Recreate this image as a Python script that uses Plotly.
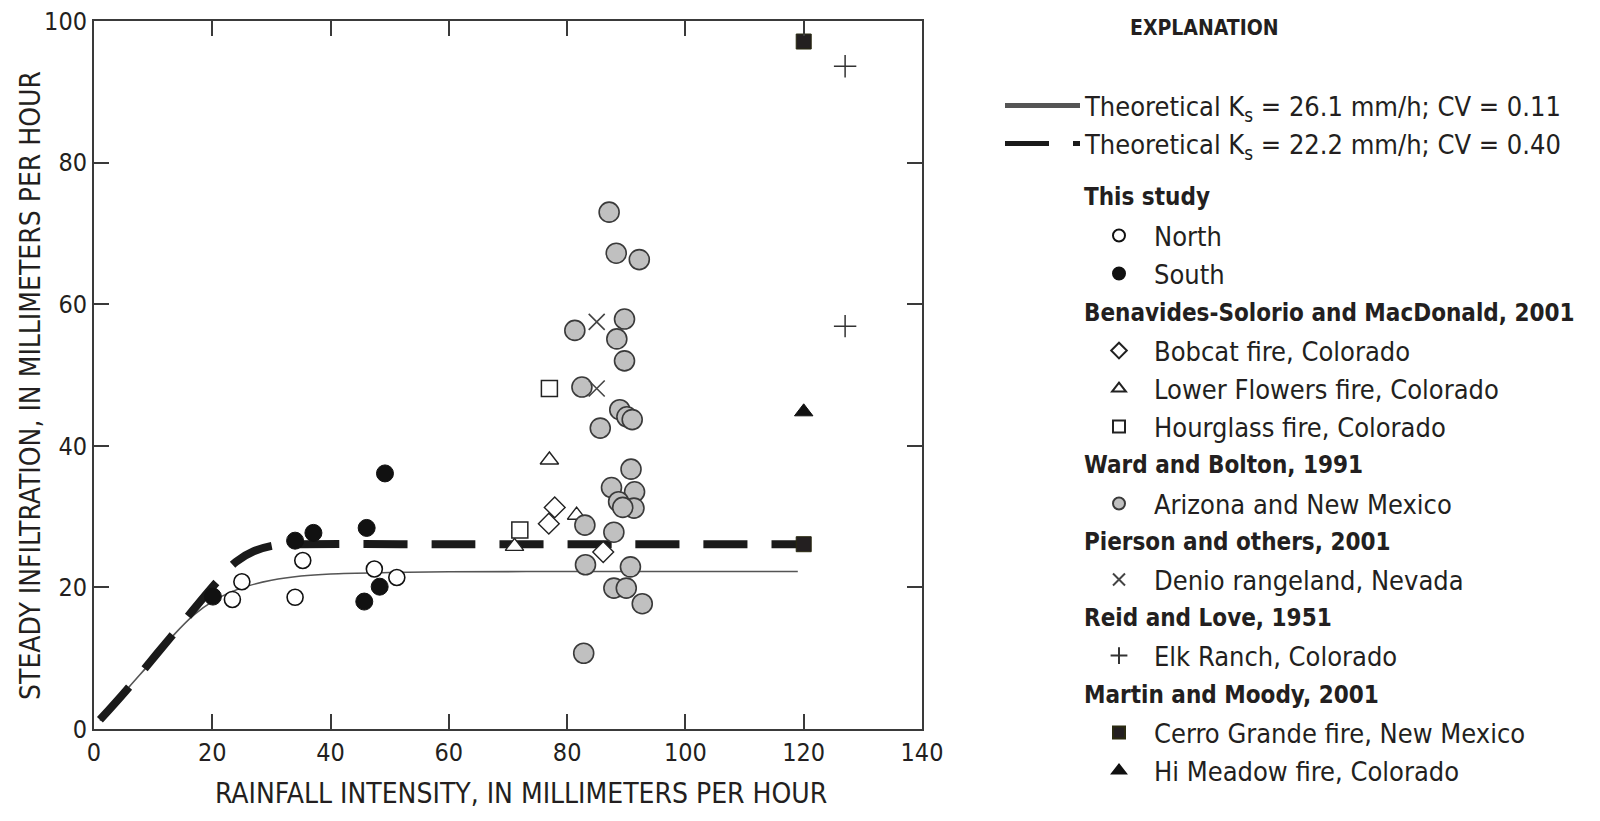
import plotly.graph_objects as go

FONT = "Liberation Sans Narrow, Arial Narrow, DejaVu Sans Condensed, sans-serif"
INK = "#231f20"

# Theoretical curves
solid_x = [1, 6, 10, 13.5, 17, 20, 23, 26, 30, 35, 40, 50, 60, 80, 100, 119]
solid_y = [1.2, 6.0, 9.8, 13.3, 16.2, 18.0, 19.3, 20.2, 21.0, 21.6, 21.9, 22.1, 22.2, 22.25, 22.25, 22.25]
dash_x = [1, 5.5, 13, 20.8, 24, 27, 31, 35, 60, 90, 119]
dash_y = [1.3, 5.5, 13, 20.8, 23.6, 25.1, 26.0, 26.1, 26.1, 26.1, 26.1]

# This study
north_x = [23.4, 25.0, 34.0, 35.3, 47.4, 51.2]
north_y = [18.3, 20.8, 18.6, 23.8, 22.6, 21.4]
south_x = [20.1, 34.0, 37.1, 46.1, 49.2, 45.7, 48.3]
south_y = [18.7, 26.6, 27.7, 28.4, 36.1, 18.0, 20.1]

# Benavides-Solorio and MacDonald, 2001
bobcat_x = [77.9, 76.9, 86.1]
bobcat_y = [31.3, 29.0, 25.0]
flowers_x = [77.0, 81.6, 71.1]
flowers_y = [38.0, 30.2, 25.8]
hourglass_x = [72.0, 77.0]
hourglass_y = [28.1, 48.1]

# Ward and Bolton, 1991
az_x = [87.1, 88.3, 92.2, 81.3, 89.7, 88.4, 89.7, 82.5, 88.9, 90.1, 91.0, 85.6,
        90.8, 87.5, 91.4, 88.7, 91.3, 89.4, 83.0, 87.9, 83.1, 90.7, 87.9, 90.0, 92.7, 82.8]
az_y = [73.0, 67.2, 66.3, 56.3, 57.9, 55.1, 52.0, 48.3, 45.1, 44.1, 43.7, 42.5,
        36.7, 34.1, 33.5, 32.1, 31.2, 31.3, 28.8, 27.8, 23.2, 22.9, 19.9, 19.9, 17.7, 10.7]

# Pierson and others, 2001
denio_x = [85.0, 85.0]
denio_y = [57.5, 48.1]

# Reid and Love, 1951
elk_x = [127.0, 127.0]
elk_y = [93.6, 56.9]

# Martin and Moody, 2001
cerro_x = [120.0, 120.0]
cerro_y = [97.1, 26.1]
meadow_x = [120.0]
meadow_y = [44.8]

x_ticks = [0, 20, 40, 60, 80, 100, 120, 140]
y_ticks = [0, 20, 40, 60, 80, 100]

legend_headers = ["This study", "Benavides-Solorio and MacDonald, 2001", "Ward and Bolton, 1991",
                  "Pierson and others, 2001", "Reid and Love, 1951", "Martin and Moody, 2001"]

# ---- layout geometry ----
# the page body adds an 8px margin around the figure, so the figure is 16px smaller
OFF = 8
W, H = 1600 - 2 * OFF, 821 - 2 * OFF
# plot area edges in page pixels
PL, PR, PT, PB = 94 - OFF, 922 - OFF, 21 - OFF, 729 - OFF


def px_x(p):  # page pixel -> paper x
    return (p - OFF - PL) / (PR - PL)


def px_y(p):  # page pixel -> paper y
    return (PB - (p - OFF)) / (PB - PT)


fig = go.Figure()
legend_layouts = {}
counter = [0]


def legend_key():
    counter[0] += 1
    return "legend" if counter[0] == 1 else f"legend{counter[0]}"


def add_legend(key, row_y, left, itemwidth):
    legend_layouts[key] = dict(
        xref="container", yref="container", x=(left - OFF) / W, y=1 - (row_y - OFF) / H,
        xanchor="left", yanchor="middle", itemwidth=itemwidth, itemsizing="constant",
        bgcolor="rgba(0,0,0,0)", borderwidth=0,
        font=dict(family=FONT, size=27, color=INK))


def add_line(x, y, name, line, row_y):
    key = legend_key()
    fig.add_trace(go.Scatter(x=x, y=y, mode="lines", name=name, line=line, legend=key))
    add_legend(key, row_y, 1000, 75)


def add_pts(x, y, name, symbol, size, fill, line_color, lw, row_y):
    key = legend_key()
    fig.add_trace(go.Scatter(
        x=x, y=y, mode="markers", name=name, legend=key,
        marker=dict(symbol=symbol, size=size, color=fill, line=dict(color=line_color, width=lw))))
    add_legend(key, row_y, 1084, 60)


add_line(solid_x, solid_y, "Theoretical K<sub>s</sub> = 26.1 mm/h; CV = 0.11",
         dict(color="#555555", width=1.6, shape="spline"), 106)
add_line(dash_x, dash_y, "Theoretical K<sub>s</sub> = 22.2 mm/h; CV = 0.40",
         dict(color="#1a1a1a", width=8, dash="44px,24px", shape="spline"), 144)

add_pts(north_x, north_y, "North", "circle", 16, "white", "#111111", 1.6, 236)
add_pts(south_x, south_y, "South", "circle", 17, "#111111", "#111111", 1, 274)
add_pts(bobcat_x, bobcat_y, "Bobcat fire, Colorado", "diamond", 16, "white", "#222222", 1.4, 351)
add_pts(flowers_x, flowers_y, "Lower Flowers fire, Colorado", "triangle-up", 16, "white", "#222222", 1.4, 389)
add_pts(hourglass_x, hourglass_y, "Hourglass fire, Colorado", "square", 16, "white", "#222222", 1.5, 427)
add_pts(az_x, az_y, "Arizona and New Mexico", "circle", 20, "#c0c0c0", "#3a3a3a", 1.6, 504)
add_pts(denio_x, denio_y, "Denio rangeland, Nevada", "x-thin-open", 16, "#444444", "#444444", 1.6, 580)
add_pts(elk_x, elk_y, "Elk Ranch, Colorado", "cross-thin-open", 16, "#333333", "#333333", 1.5, 656)
add_pts(cerro_x, cerro_y, "Cerro Grande fire, New Mexico", "square", 15, "#231f20", "#2a2a10", 1, 733)
add_pts(meadow_x, meadow_y, "Hi Meadow fire, Colorado", "triangle-up", 16, "#111111", "#111111", 1, 771)

header_rows = [197, 313, 465, 542, 618, 695]
for text, row_y in zip(legend_headers, header_rows):
    fig.add_annotation(text=f"<b>{text}</b>", xref="paper", yref="paper",
                       x=px_x(1082), y=px_y(row_y), xanchor="left", yanchor="middle",
                       showarrow=False, font=dict(family=FONT, size=24, color=INK))

fig.add_annotation(text="<b>EXPLANATION</b>", xref="paper", yref="paper",
                   x=px_x(1204), y=px_y(28), showarrow=False, xanchor="center", yanchor="middle",
                   font=dict(family=FONT, size=21, color=INK))

# axis titles
fig.add_annotation(text="RAINFALL INTENSITY, IN MILLIMETERS PER HOUR", xref="paper", yref="paper",
                   x=px_x(521), y=px_y(793), showarrow=False, xanchor="center", yanchor="middle",
                   font=dict(family=FONT, size=28, color=INK))
fig.add_annotation(text="STEADY INFILTRATION, IN MILLIMETERS PER HOUR", xref="paper", yref="paper",
                   x=px_x(30), y=px_y(386), showarrow=False, xanchor="center", yanchor="middle",
                   textangle=-90, font=dict(family=FONT, size=28, color=INK))

axis_common = dict(
    showline=True, linecolor="#3a3a3a", linewidth=2, mirror="ticks",
    ticks="inside", ticklen=15, tickwidth=2, tickcolor="#3a3a3a",
    showgrid=False, zeroline=False, automargin=False, ticklabeloverflow="allow",
    tickfont=dict(family=FONT, size=25, color=INK),
)

fig.update_xaxes(range=[0, 140], tickvals=x_ticks, ticktext=[str(v) for v in x_ticks], **axis_common)
fig.update_yaxes(range=[0, 100], tickvals=y_ticks, ticktext=[str(v) for v in y_ticks], **axis_common)

fig.update_layout(
    width=W, height=H,
    margin=dict(l=PL, r=W - PR, t=PT, b=H - PB, autoexpand=False),
    paper_bgcolor="white", plot_bgcolor="white",
    showlegend=True,
    **legend_layouts,
)

fig.write_html("out.html")
